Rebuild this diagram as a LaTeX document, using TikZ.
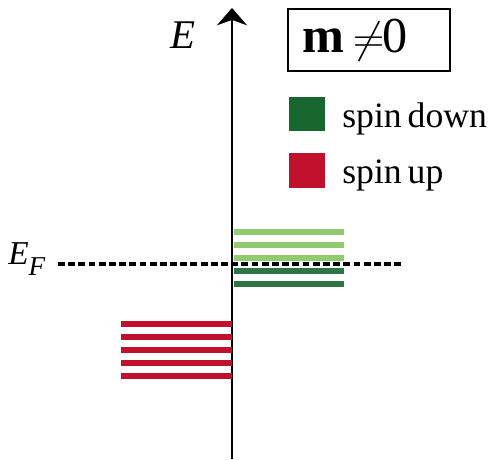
\documentclass[tikz,border=0pt]{standalone}
\usepackage{fontspec}
\setmainfont{Liberation Serif}
\usepackage{tikz}
\usetikzlibrary{positioning, arrows.meta, calc}

\definecolor{downdark}{RGB}{22,102,46}
\definecolor{downlight}{RGB}{146,202,112}
\definecolor{updark}{RGB}{193,16,44}

\begin{document}
\begin{tikzpicture}[
            x=0.02cm, y=-0.02cm,
            axis/.style={line width=1.6pt, -{Stealth[length=9.8pt, width=17pt, inset=3pt]}},
            fermi/.style={line width=2pt, dash pattern=on 3.9pt off 1.9pt},
            level/.style={line width=3.7pt},
            swatch/.style={rectangle, inner sep=0pt, minimum width=20.5pt, minimum height=19.5pt},
            legtext/.style={inner sep=0pt, anchor=base west, font=\fontsize{20.3pt}{22pt}\selectfont}
        ]
        \useasboundingbox (0,0) rectangle (502,459);

        % Achse
        \coordinate (bottom) at (232,459);
        \coordinate (top) at (232,8);
        \draw[axis] (bottom) -- (top);
        \node[inner sep=0pt, anchor=base west, font=\fontsize{23.2pt}{25pt}\selectfont] (elabel) at (170,49) {\textit{E}};

        % Fermi-Niveau
        \node[inner sep=0pt, anchor=base west, font=\fontsize{19pt}{21pt}\selectfont] (eflabel) at (8,264)
            {\textit{E}\raisebox{-6.8pt}{\fontsize{15.5pt}{17pt}\selectfont\textit{F}}};
        \coordinate (fl) at (58,264);
        \coordinate (fr) at (403,264);

        % Niveaus
        \foreach \y in {232,245,258}
            \draw[level, downlight] (234,\y) -- (344,\y);
        \foreach \y in {271,284}
            \draw[level, downdark!90!white] (234,\y) -- (344,\y);
        \foreach \y in {324,337,350,363,376}
            \draw[level, updark] (121,\y) -- (232,\y);
        \draw[fermi] (fl) -- (fr);

        % Box und Legende
        \node[draw=black, line width=1.1pt, minimum width=92.2pt, minimum height=35.3pt,
              inner xsep=8pt, text width=76pt, align=left, font=\fontsize{28.6pt}{30pt}\selectfont] (mbox) at (369,40)
            {\textbf{m}\hspace{5pt}$\mathord{\neq}$\hspace{-1pt}0};
        \node[swatch, fill=downdark] (sdown) at (307,114) {};
        \node[swatch, fill=updark] (sup) at (307,170.5) {};
        \node[legtext] (tdown) at (342,128) {spin\,down};
        \node[legtext] (tup) at (342,183) {spin\,up};

    \end{tikzpicture}
\end{document}
